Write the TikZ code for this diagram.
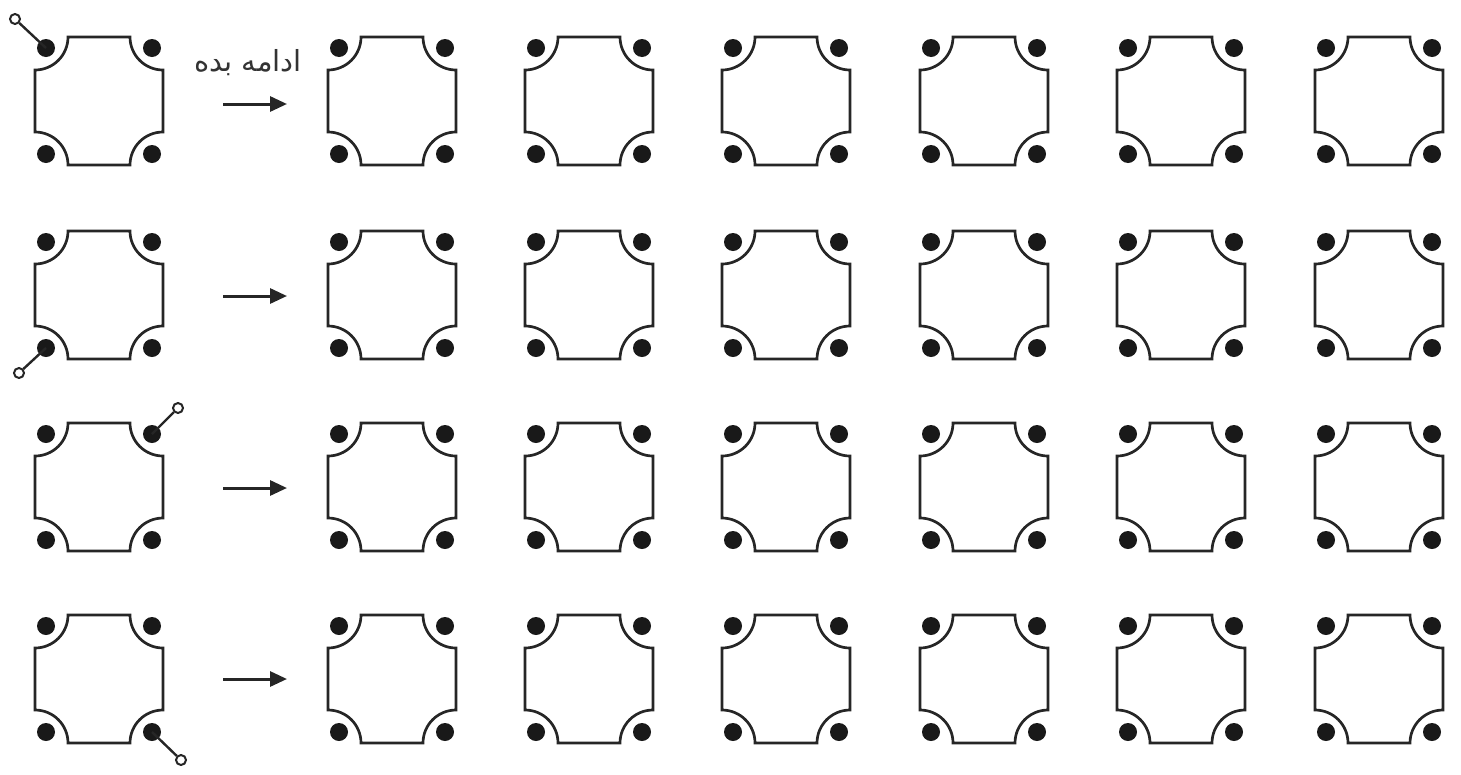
\documentclass[tikz,border=0pt]{standalone}
\usepackage{fontspec}
\usetikzlibrary{arrows.meta}
\newfontfamily\arabicfont[Script=Arabic]{DejaVu Sans}
\TeXXeTstate=1
\tikzset{
  frame/.style={line width=2.7pt, draw=black!85},
  dot/.style={circle, fill=black!90, inner sep=0pt, minimum size=18pt},
  pinring/.style={circle, draw=black!85, fill=white, line width=2pt, inner sep=0pt, minimum size=10pt},
  pinline/.style={line width=2.4pt, draw=black!85},
  flow/.style={line width=3pt, draw=black!85, -{Triangle[length=17pt,width=15pt]}},
  label/.style={font=\arabicfont\fontsize{29pt}{32pt}\selectfont, text=black!80, inner sep=0pt},
  cell/.pic={
    \draw[frame] (-31,64) -- (31,64) arc[start angle=180,end angle=270,radius=33pt]
      -- (64,-31) arc[start angle=90,end angle=180,radius=33pt]
      -- (-31,-64) arc[start angle=0,end angle=90,radius=33pt]
      -- (-64,31) arc[start angle=-90,end angle=0,radius=33pt] -- cycle;
    \node[dot] (-tl) at (-53,53) {};
    \node[dot] (-tr) at (53,53) {};
    \node[dot] (-bl) at (-53,-53) {};
    \node[dot] (-br) at (53,-53) {};
  }
}
\begin{document}
\begin{tikzpicture}[x=1pt,y=1pt]
\useasboundingbox (0,0) rectangle (1461,-774);
\foreach \r/\y in {1/101,2/295,3/487,4/679}{
  \foreach \c/\x in {0/99,1/392,2/589,3/786,4/984,5/1181,6/1379}{
    \pic (p\r-\c) at (\x,-\y) {cell};
  }
}
% arrows
\coordinate (a1s) at (223,-104); \coordinate (a1e) at (287,-104);
\coordinate (a2s) at (223,-296); \coordinate (a2e) at (287,-296);
\coordinate (a3s) at (223,-488); \coordinate (a3e) at (287,-488);
\coordinate (a4s) at (223,-679); \coordinate (a4e) at (287,-679);
\draw[flow] (a1s) -- (a1e);
\draw[flow] (a2s) -- (a2e);
\draw[flow] (a3s) -- (a3e);
\draw[flow] (a4s) -- (a4e);
\node[label] (txt) at (248,-63) {\beginR ادامه بده\endR};
% pins
\node[pinring] (q1) at (15,-19) {};
\node[pinring] (q2) at (19,-373) {};
\node[pinring] (q3) at (178,-408) {};
\node[pinring] (q4) at (181,-760) {};
\draw[pinline] (p1-0-tl.center) -- (q1);
\draw[pinline] (p2-0-bl.center) -- (q2);
\draw[pinline] (p3-0-tr.center) -- (q3);
\draw[pinline] (p4-0-br.center) -- (q4);
\end{tikzpicture}
\end{document}
